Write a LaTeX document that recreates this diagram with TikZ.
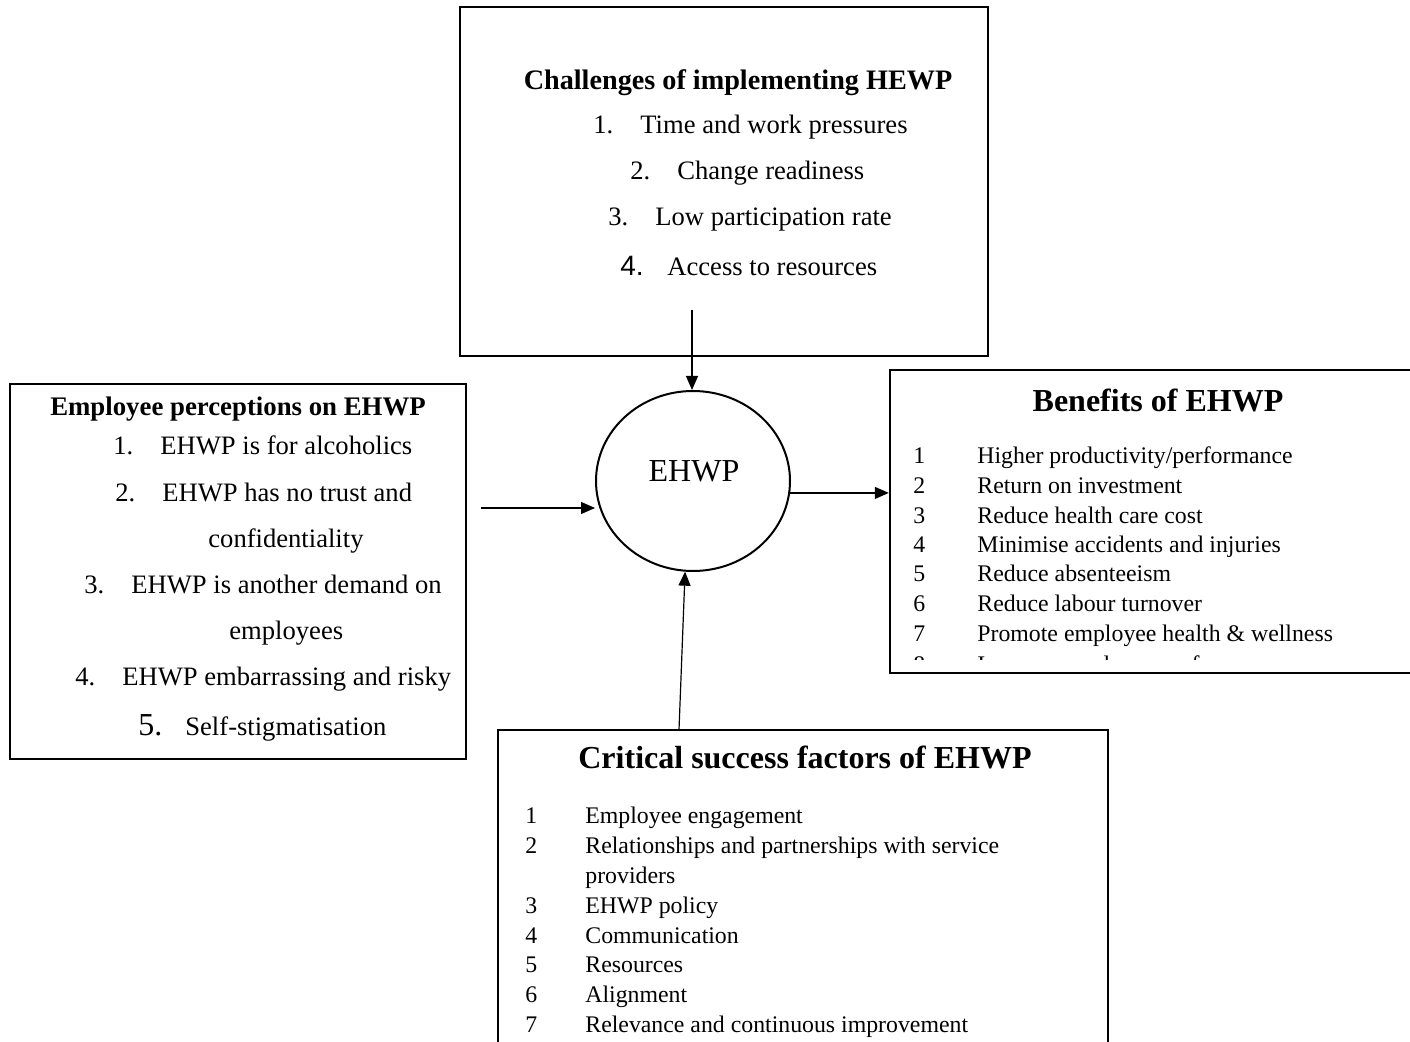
\documentclass[tikz,border=0pt]{standalone}
\usepackage{fontspec}
\setmainfont{Liberation Serif}
\newfontfamily\numfont{Liberation Sans}
\usepackage{tikz}
\usetikzlibrary{positioning,shapes.geometric,arrows.meta}

\newcommand{\lnum}[1]{\makebox[23.5pt][l]{#1}}

\tikzset{
  box/.style={draw, line width=1.2pt, inner sep=0pt},
  itm/.style={anchor=base west, inner sep=0pt, font=\fontsize{13.3}{16}\selectfont},
  smallitm/.style={anchor=base west, inner sep=0pt, font=\fontsize{11.9}{14}\selectfont},
  ttl/.style={anchor=base, inner sep=0pt, font=\bfseries\fontsize{13.4}{16}\selectfont},
  bigttl/.style={anchor=base, inner sep=0pt, font=\bfseries\fontsize{16}{19}\selectfont},
  link/.style={-{Triangle[length=7pt,width=6pt]}, line width=0.6pt},
}

\begin{document}
\begin{tikzpicture}[x=0.5pt,y=-0.5pt]
            \useasboundingbox (0,0) rectangle (1410,1042);

            % boxes
            \node[box, minimum width=264pt, minimum height=174.5pt] (chal) at (724,181.5) {};
            \node[box, minimum width=228pt, minimum height=187.5pt] (perc) at (238,571.5) {};
            \node[box, minimum width=265pt, minimum height=151.5pt] (ben) at (1155,521.5) {};
            \node[box, minimum width=305pt, minimum height=165pt] (crit) at (803,895) {};
            \node[draw, ellipse, line width=1pt, minimum width=97pt, minimum height=90pt, inner sep=0pt] (ehwp) at (693,481) {};
            \node[anchor=base, inner sep=0pt, font=\fontsize{16}{19}\selectfont] (ehwptxt) at (694,482) {EHWP};

            % challenges
            \node[ttl, font=\bfseries\fontsize{14.1}{17}\selectfont] (ctitle) at (738,90) {Challenges of implementing HEWP};
            \node[itm] (c1) at (593,134) {\lnum{1.}Time and work pressures};
            \node[itm] (c2) at (630,180) {\lnum{2.}Change readiness};
            \node[itm] (c3) at (608,226) {\lnum{3.}Low participation rate};
            \node[itm] (c4) at (620,276) {\lnum{\numfont\fontsize{14}{17}\selectfont 4.}Access to resources};

            % perceptions
            \node[ttl] (ptitle) at (238,416) {Employee perceptions on EHWP};
            \node[itm] (p1) at (113,455) {\lnum{1.}EHWP is for alcoholics};
            \node[itm] (p2) at (115,502) {\lnum{2.}EHWP has no trust and};
            \node[itm] (p2b) at (208,548) {confidentiality};
            \node[itm] (p3) at (84,594) {\lnum{3.}EHWP is another demand on};
            \node[itm] (p3b) at (229,640) {employees};
            \node[itm] (p4) at (75,686) {\lnum{4.}EHWP embarrassing and risky};
            \node[itm] (p5) at (138,736) {\lnum{\fontsize{16}{19}\selectfont 5.}Self-stigmatisation};

            % benefits
            \node[bigttl] (btitle) at (1158,412) {Benefits of EHWP};
            \begin{scope}
            \clip (890,370) rectangle (1410,660);
            \foreach \y/\n/\t in {464/1/{Higher productivity/performance}, 494/2/{Return on investment},
              524/3/{Reduce health care cost}, 553/4/{Minimise accidents and injuries},
              582/5/{Reduce absenteeism}, 612/6/{Reduce labour turnover},
              642/7/{Promote employee health \& wellness}, 673/8/{Increase employee performance}}{
              \node[smallitm] (bn\n) at (913,\y) {\n};
              \node[smallitm] (bt\n) at (977,\y) {\t};
            }
            \end{scope}

            % critical success factors
            \node[bigttl] (ftitle) at (805,769) {Critical success factors of EHWP};
            \foreach \y/\n/\t in {824/1/{Employee engagement}, 854/2/{Relationships and partnerships with service},
              914/3/{EHWP policy}, 944/4/{Communication}, 973/5/{Resources}, 1003/6/{Alignment},
              1033/7/{Relevance and continuous improvement}}{
              \node[smallitm] (fn\n) at (525,\y) {\n};
              \node[smallitm] (ft\n) at (585,\y) {\t};
            }
            \node[smallitm] (ft2b) at (585,884) {providers};

            % arrows
            \coordinate (ctop) at (692,310);
            \coordinate (pout) at (481,508);
            \coordinate (cin) at (679,730);
            \draw[link] (ctop) -- (ctop |- ehwp.north);
            \draw[link] (pout) -- (pout -| ehwp.west);
            \draw[link] (ehwp.-7) -- (ehwp.-7 -| ben.west);
            \draw[link] (cin) -- (ehwp.265);
\end{tikzpicture}
\end{document}
